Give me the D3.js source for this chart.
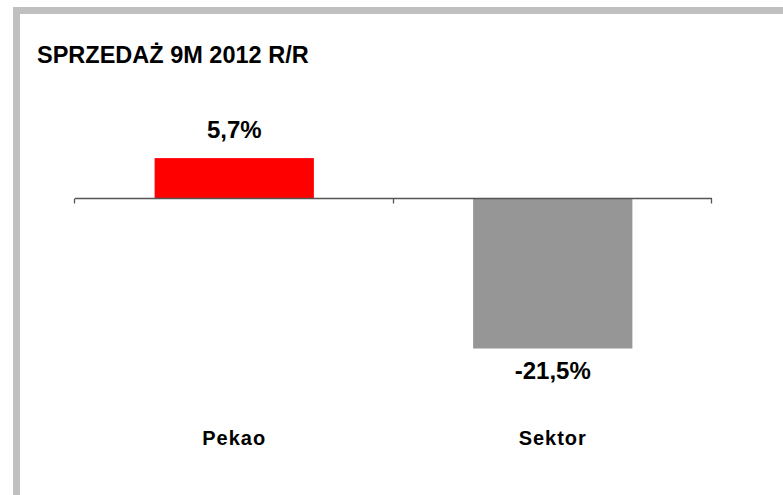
<!DOCTYPE html>
<html>
<head>
<meta charset="utf-8">
<script src="https://cdn.jsdelivr.net/npm/d3@7"></script>
<style>
  body { margin: 0; background: #fff; }
  text { font-family: "Liberation Sans", Arial, sans-serif; font-weight: bold; fill: #000; }
</style>
</head>
<body>
<div id="chart"></div>
<script>
var title = "SPRZEDAŻ 9M 2012 R/R";
var categories = ["Pekao", "Sektor"];
var values = [5.7, -21.5];
var barColors = ["#ff0000", "#969696"];

var width = 783,
  height = 495;

var pl = d3.formatLocale({ decimal: ",", thousands: " ", grouping: [3], currency: ["", " zł"], minus: "-" });
var fmt = pl.format(".1f");

var svg = d3.select("#chart").append("svg").attr("width", width).attr("height", height);

// outer frame (only top and left edges fall inside the picture)
svg.append("rect").attr("x", 16.5).attr("y", 10.5).attr("width", 900).attr("height", 700)
  .attr("fill", "#fff").attr("stroke", "#c0c0c0").attr("stroke-width", 7);

svg.append("text").attr("x", 37).attr("y", 63).style("font-size", "23.5px").text(title);

var x = d3.scaleBand().domain(categories).range([75, 712]).paddingInner(0.5).paddingOuter(0.25);
var y = d3.scaleLinear().domain([-24, 8]).range([366, 142]);

svg.selectAll("rect.bar").data(values).enter().append("rect").attr("class", "bar")
  .attr("x", function(d, i) {
    return x(categories[i]);
  }).attr("y", function(d) {
    return Math.min(y(d), y(0));
  }).attr("width", x.bandwidth()).attr("height", function(d) {
    return Math.abs(y(d) - y(0));
  }).attr("fill", function(d, i) {
    return barColors[i];
  });

// category axis along zero with ticks between the bands
var axisY = Math.round(y(0)) + 0.5;
var g = svg.append("g").attr("stroke", "#555").attr("stroke-width", 1.3);
g.append("line").attr("x1", 75).attr("x2", 712).attr("y1", axisY).attr("y2", axisY);
var tickX = [75, (x(categories[0]) + x.bandwidth() + x(categories[1])) / 2, 712];
g.selectAll("line.tick").data(tickX).enter().append("line").attr("class", "tick")
  .attr("x1", function(d) { return Math.round(d) - 0.5; })
  .attr("x2", function(d) { return Math.round(d) - 0.5; })
  .attr("y1", axisY).attr("y2", axisY + 5);

svg.selectAll("text.val").data(values).enter().append("text").attr("class", "val")
  .attr("x", function(d, i) {
    return x(categories[i]) + x.bandwidth() / 2;
  }).attr("y", function(d) {
    return d >= 0 ? y(d) - 20 : y(d) + 30;
  }).attr("text-anchor", "middle").style("font-size", "24px").text(function(d) {
    return fmt(d) + "%";
  });

svg.selectAll("text.cat").data(categories).enter().append("text").attr("class", "cat")
  .attr("x", function(d) {
    return x(d) + x.bandwidth() / 2;
  }).attr("y", 445).attr("text-anchor", "middle").style("font-size", "20px")
  .style("letter-spacing", "1px").text(function(d) {
    return d;
  });
</script>
</body>
</html>
